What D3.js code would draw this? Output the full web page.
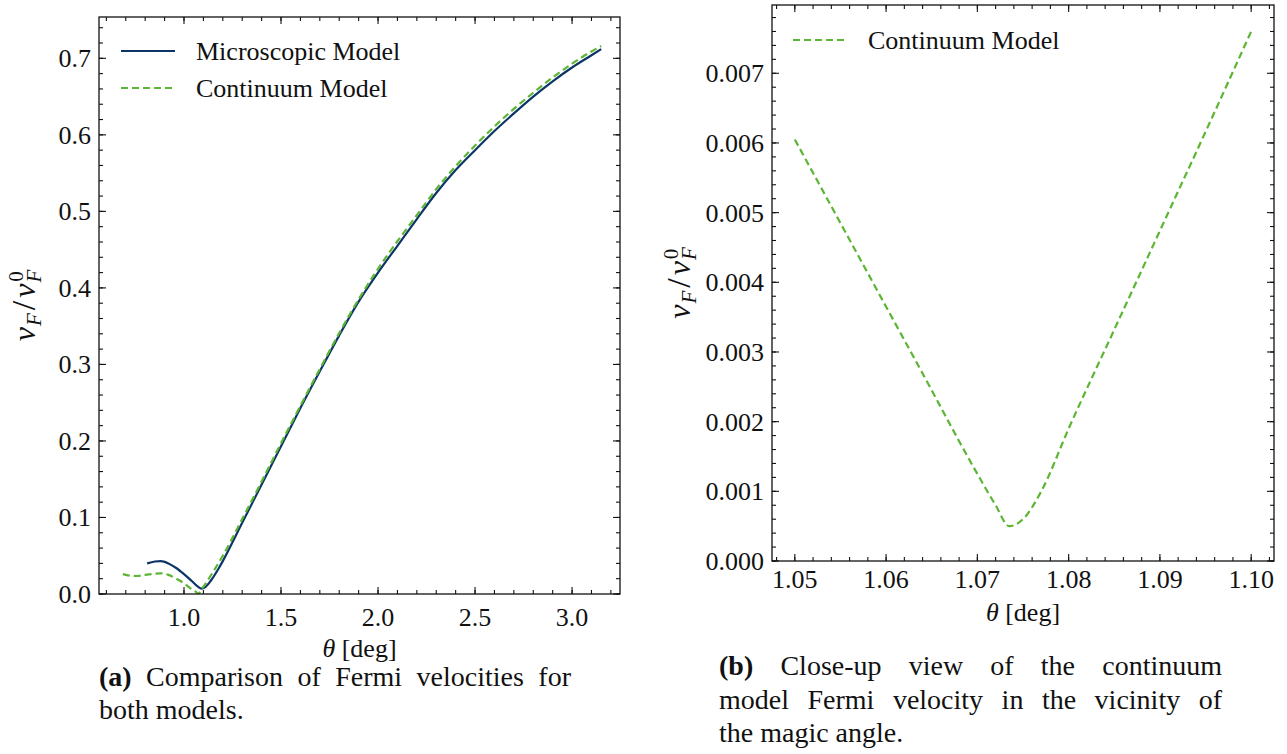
<!DOCTYPE html>
<html>
<head>
<meta charset="utf-8">
<script src="https://cdn.jsdelivr.net/npm/d3@7/dist/d3.min.js"></script>
<style>
  html, body { margin: 0; padding: 0; background: #fff; }
  svg { display: block; }
  text { font-family: "Liberation Serif", "DejaVu Serif", serif; fill: #111; }
</style>
</head>
<body>
<svg id="chart" width="1287" height="754"></svg>
<script>
// ---------------- DATA ----------------
// Panel (a): microscopic model
const microTheta = [0.81, 0.85, 0.88, 0.92, 0.96, 1.00, 1.04, 1.07, 1.09, 1.11, 1.14, 1.18, 1.20, 1.30, 1.40, 1.50, 1.60, 1.70, 1.80, 1.90, 2.00, 2.10, 2.20, 2.30, 2.40, 2.50, 2.60, 2.70, 2.80, 2.90, 3.00, 3.10, 3.15];
const microV     = [0.040, 0.0425, 0.043, 0.040, 0.034, 0.026, 0.017, 0.010, 0.007, 0.009, 0.018, 0.034, 0.043, 0.093, 0.143, 0.193, 0.243, 0.291, 0.338, 0.382, 0.420, 0.455, 0.490, 0.524, 0.554, 0.580, 0.605, 0.628, 0.650, 0.670, 0.688, 0.704, 0.712];
// Panel (a): continuum model
const contTheta = [0.685, 0.72, 0.76, 0.80, 0.85, 0.88, 0.92, 0.96, 1.00, 1.03, 1.06, 1.074, 1.09, 1.12, 1.15, 1.20, 1.30, 1.40, 1.50, 1.60, 1.70, 1.80, 1.90, 2.00, 2.10, 2.20, 2.30, 2.40, 2.50, 2.60, 2.70, 2.80, 2.90, 3.00, 3.10, 3.15];
const contV     = [0.026, 0.024, 0.0235, 0.025, 0.0265, 0.027, 0.025, 0.020, 0.014, 0.008, 0.003, 0.0005, 0.006, 0.017, 0.029, 0.050, 0.098, 0.147, 0.197, 0.246, 0.294, 0.341, 0.385, 0.425, 0.461, 0.495, 0.529, 0.559, 0.586, 0.611, 0.634, 0.655, 0.675, 0.693, 0.709, 0.716];
// Panel (b): close-up of continuum model
const zoomTheta = [1.050, 1.055, 1.060, 1.065, 1.068, 1.070, 1.072, 1.0735, 1.075, 1.077, 1.080, 1.085, 1.090, 1.095, 1.100];
const zoomV     = [0.00605, 0.00485, 0.00365, 0.00245, 0.00172, 0.00125, 0.00080, 0.00050, 0.00060, 0.00100, 0.00190, 0.00332, 0.00474, 0.00616, 0.00760];

// Tick labels
const aXTicks = [1.0, 1.5, 2.0, 2.5, 3.0];
const aYTicks = [0.0, 0.1, 0.2, 0.3, 0.4, 0.5, 0.6, 0.7];
const bXTicks = [1.05, 1.06, 1.07, 1.08, 1.09, 1.10];
const bYTicks = [0.000, 0.001, 0.002, 0.003, 0.004, 0.005, 0.006, 0.007];

const legendA = ["Microscopic Model", "Continuum Model"];
const legendB = ["Continuum Model"];
const captionA = [["(a)", " Comparison of Fermi velocities for"], ["", "both models."]];
const captionB = [["(b)", " Close-up view of the continuum"], ["", "model Fermi velocity in the vicinity of"], ["", "the magic angle."]];

// ---------------- STYLE ----------------
const NAVY = "#0b3566";
const GREEN = "#5db534";
const FS = 26;
const CAP_FS = 28;

const svg = d3.select("#chart");

function panel(cfg) {
  const g = svg.append("g");
  const x = d3.scaleLinear().domain(cfg.xDomain).range([cfg.x0, cfg.x1]);
  const y = d3.scaleLinear().domain(cfg.yDomain).range([cfg.y1, cfg.y0]);

  const xMinor = d3.range(cfg.xMinorStart, cfg.xDomain[1], cfg.xMinorStep).filter(v => v >= cfg.xDomain[0] - 1e-12);
  const yMinor = d3.range(0, cfg.yDomain[1], cfg.yMinorStep);

  const tickG = g.append("g").attr("stroke", "#111").attr("stroke-width", 1.1);
  const MAJ = 7, MIN = 4;
  xMinor.forEach(v => {
    tickG.append("line").attr("x1", x(v)).attr("x2", x(v)).attr("y1", cfg.y1).attr("y2", cfg.y1 - MIN);
    tickG.append("line").attr("x1", x(v)).attr("x2", x(v)).attr("y1", cfg.y0).attr("y2", cfg.y0 + MIN);
  });
  yMinor.forEach(v => {
    tickG.append("line").attr("y1", y(v)).attr("y2", y(v)).attr("x1", cfg.x0).attr("x2", cfg.x0 + MIN);
    tickG.append("line").attr("y1", y(v)).attr("y2", y(v)).attr("x1", cfg.x1).attr("x2", cfg.x1 - MIN);
  });
  cfg.xTicks.forEach(v => {
    tickG.append("line").attr("x1", x(v)).attr("x2", x(v)).attr("y1", cfg.y1).attr("y2", cfg.y1 - MAJ);
    tickG.append("line").attr("x1", x(v)).attr("x2", x(v)).attr("y1", cfg.y0).attr("y2", cfg.y0 + MAJ);
  });
  cfg.yTicks.forEach(v => {
    tickG.append("line").attr("y1", y(v)).attr("y2", y(v)).attr("x1", cfg.x0).attr("x2", cfg.x0 + MAJ);
    tickG.append("line").attr("y1", y(v)).attr("y2", y(v)).attr("x1", cfg.x1).attr("x2", cfg.x1 - MAJ);
  });

  cfg.xTicks.forEach(v => {
    g.append("text").attr("x", x(v)).attr("y", cfg.y1 + cfg.xTickDy).attr("text-anchor", "middle")
      .attr("font-size", FS).text(d3.format(cfg.xFmt)(v));
  });
  cfg.yTicks.forEach(v => {
    g.append("text").attr("x", cfg.x0 - 8).attr("y", y(v) + 9).attr("text-anchor", "end")
      .attr("font-size", FS).text(d3.format(cfg.yFmt)(v));
  });

  const line = d3.line().x(d => x(d[0])).y(d => y(d[1])).curve(d3.curveMonotoneX);
  const clipId = "clip" + cfg.id;
  g.append("clipPath").attr("id", clipId).append("rect")
    .attr("x", cfg.x0).attr("y", cfg.y0).attr("width", cfg.x1 - cfg.x0).attr("height", cfg.y1 - cfg.y0);
  cfg.series.forEach(s => {
    g.append("path").attr("clip-path", `url(#${clipId})`)
      .datum(d3.zip(s.theta, s.v))
      .attr("fill", "none").attr("stroke", s.color).attr("stroke-width", 2.2)
      .attr("stroke-dasharray", s.dash || null)
      .attr("d", line);
  });

  g.append("rect").attr("x", cfg.x0).attr("y", cfg.y0).attr("width", cfg.x1 - cfg.x0).attr("height", cfg.y1 - cfg.y0)
    .attr("fill", "none").attr("stroke", "#111").attr("stroke-width", 1.3);

  cfg.series.forEach((s, i) => {
    const ly = cfg.legendY + i * 37;
    g.append("line").attr("x1", cfg.legendX).attr("x2", cfg.legendX + 54).attr("y1", ly).attr("y2", ly)
      .attr("stroke", s.color).attr("stroke-width", 2.2).attr("stroke-dasharray", s.dash || null);
    g.append("text").attr("x", cfg.legendX + 75).attr("y", ly + 9).attr("font-size", FS).text(s.name);
  });

  const xl = g.append("text").attr("x", (cfg.x0 + cfg.x1) / 2).attr("y", cfg.y1 + cfg.xLabelDy)
    .attr("text-anchor", "middle").attr("font-size", FS);
  xl.append("tspan").attr("font-style", "italic").text("θ");
  xl.append("tspan").text(" [deg]");

  const yl = g.append("g").attr("transform", `translate(${cfg.yLabelX},${(cfg.y0 + cfg.y1) / 2}) rotate(-90)`)
    .append("text").attr("text-anchor", "middle").attr("font-size", 32).attr("font-style", "italic");
  yl.append("tspan").text("v");
  yl.append("tspan").attr("font-size", 21).attr("dy", 6).attr("dx", 1).text("F");
  yl.append("tspan").attr("dy", -6).attr("dx", 3).attr("font-style", "normal").attr("font-size", 34).text("/");
  yl.append("tspan").attr("dx", 3).text("v");
  yl.append("tspan").attr("font-size", 21).attr("dy", 6).attr("dx", 1).text("F");
  yl.append("tspan").attr("font-size", 21).attr("font-style", "normal").attr("dx", -12).attr("dy", -18).text("0");
}

panel({
  id: "a", x0: 99, x1: 620, y0: 17, y1: 594,
  xDomain: [0.562, 3.247], yDomain: [0, 0.754],
  xTicks: aXTicks, yTicks: aYTicks, xMinorStart: 0.6, xMinorStep: 0.1, yMinorStep: 0.02,
  xFmt: ".1f", yFmt: ".1f", xTickDy: 32, xLabelDy: 63,
  series: [
    { name: legendA[0], theta: microTheta, v: microV, color: NAVY },
    { name: legendA[1], theta: contTheta, v: contV, color: GREEN, dash: "7,4" }
  ],
  legendX: 121, legendY: 51, yLabelX: 35
});

panel({
  id: "b", x0: 772, x1: 1274, y0: 5, y1: 561,
  xDomain: [1.0475, 1.1025], yDomain: [0, 0.00798],
  xTicks: bXTicks, yTicks: bYTicks, xMinorStart: 1.048, xMinorStep: 0.002, yMinorStep: 0.0002,
  xFmt: ".2f", yFmt: ".3f", xTickDy: 27, xLabelDy: 60,
  series: [
    { name: legendB[0], theta: zoomTheta, v: zoomV, color: GREEN, dash: "7,4" }
  ],
  legendX: 793, legendY: 40, yLabelX: 690
});

function caption(lines, x, y0, lh, width, justifyCount) {
  lines.forEach((ln, i) => {
    const t = svg.append("text").attr("x", x).attr("y", y0 + i * lh).attr("font-size", CAP_FS);
    if (ln[0]) t.append("tspan").attr("font-weight", "bold").text(ln[0]);
    t.append("tspan").text(ln[1]);
    if (i < justifyCount) {
      const full = ln[0] + ln[1];
      const nat = t.node().getComputedTextLength();
      const spaces = (full.match(/ /g) || []).length;
      if (spaces > 0) t.attr("word-spacing", (width - nat) / spaces);
    }
  });
}
caption(captionA, 99, 686, 33, 472, 1);
caption(captionB, 719, 675, 33.5, 503, 2);
</script>
</body>
</html>
